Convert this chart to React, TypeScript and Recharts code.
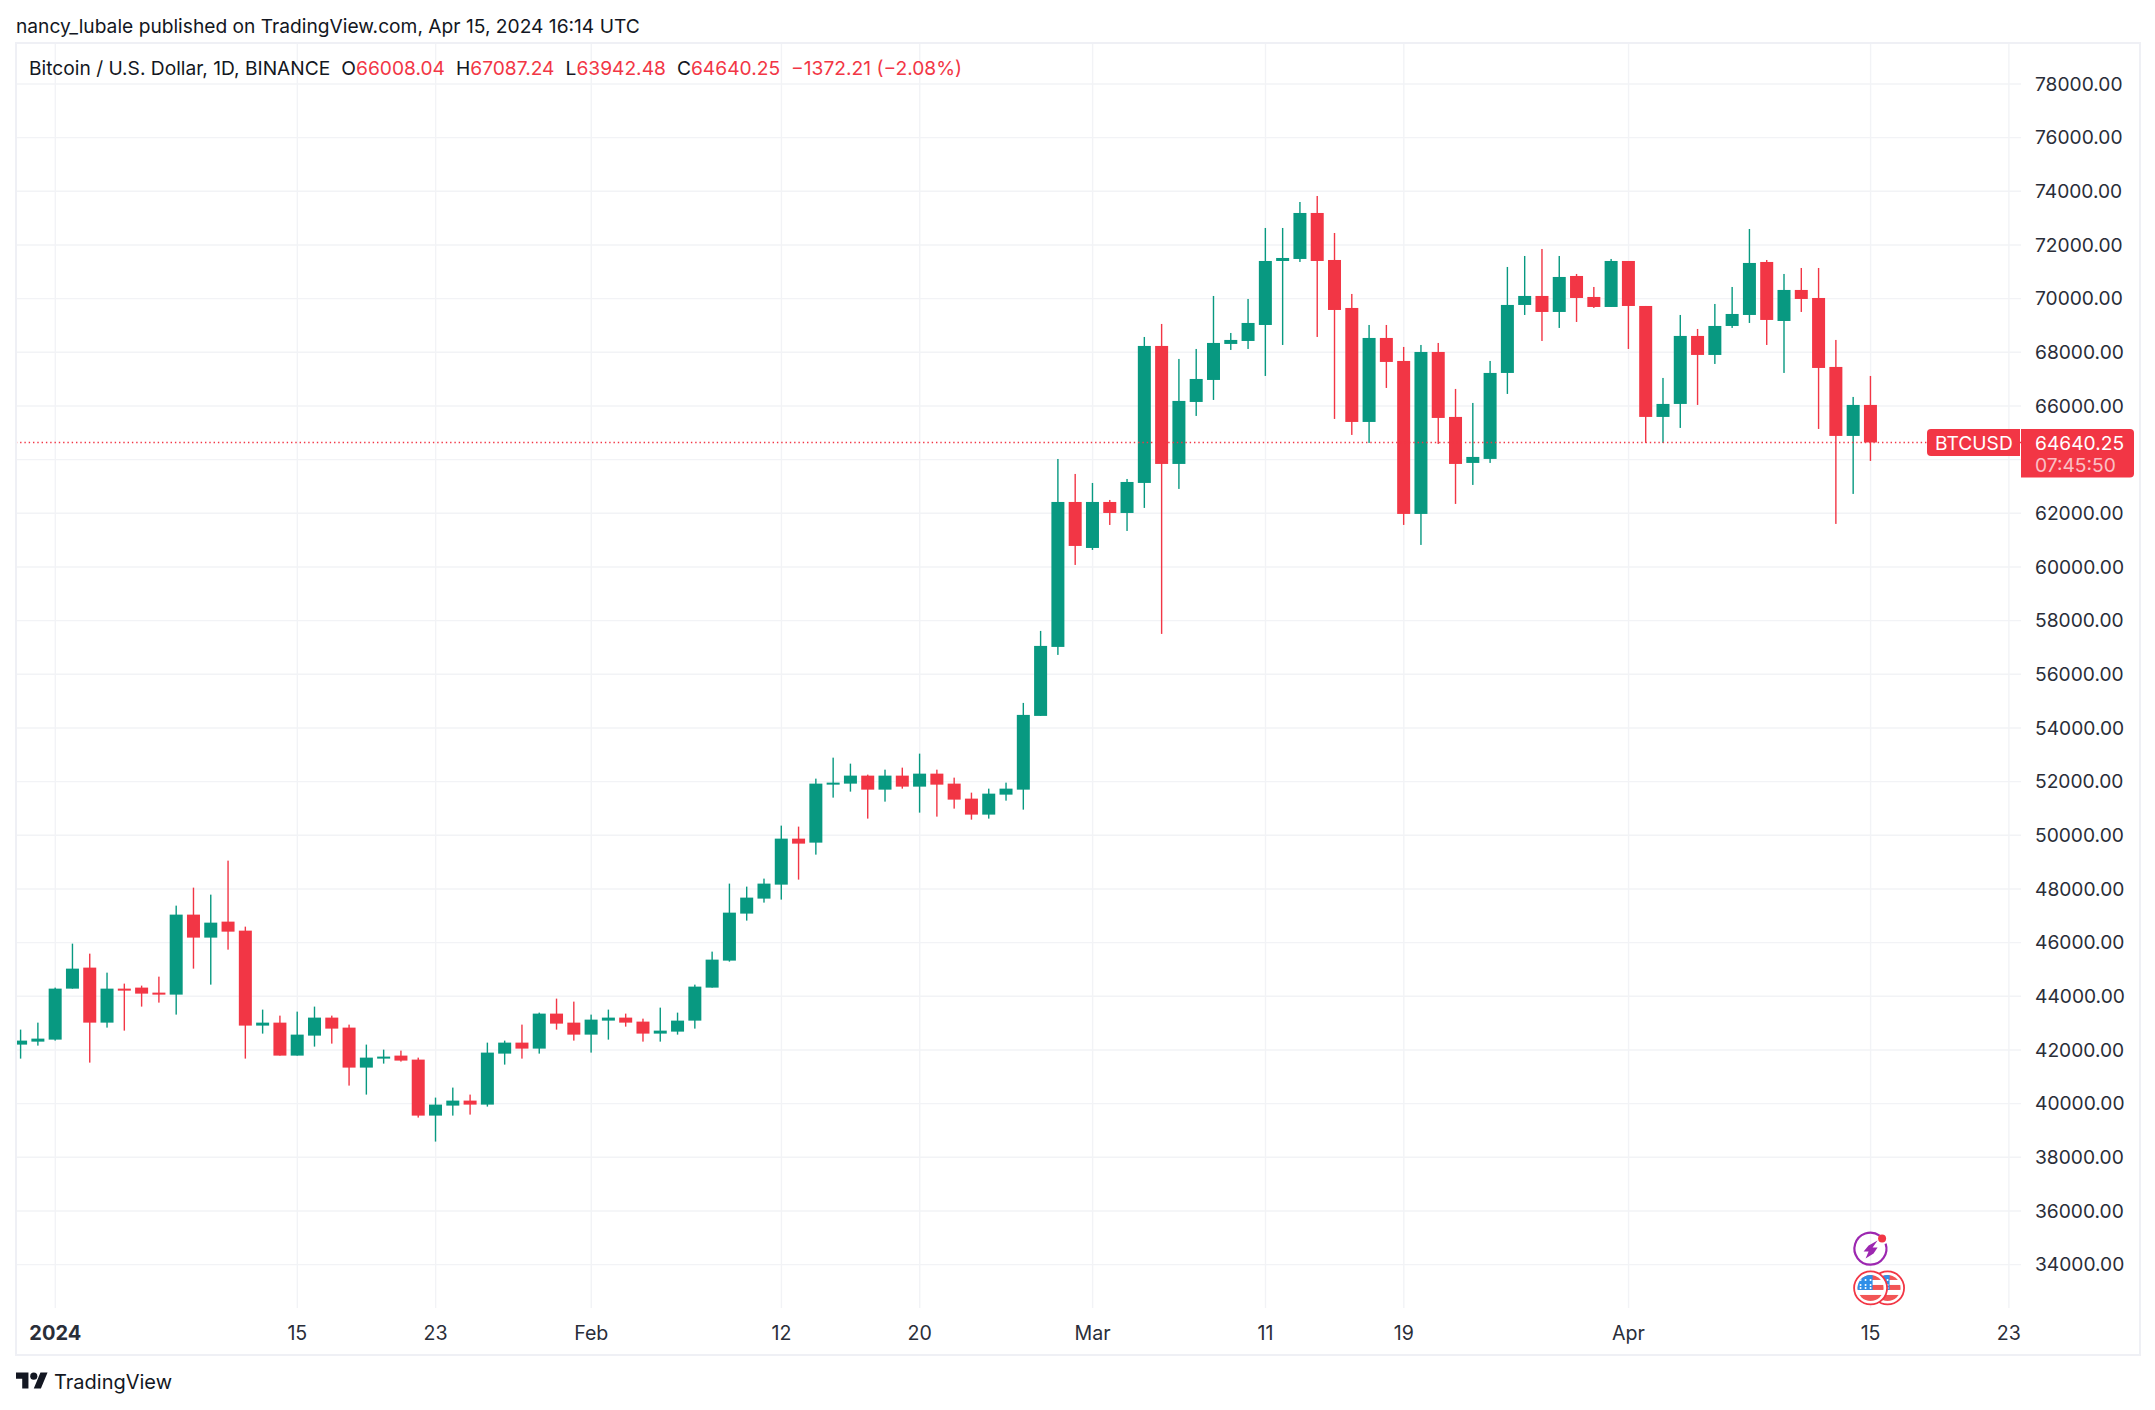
import React from 'react'
import { ComposedChart, Bar, XAxis, YAxis, CartesianGrid, ReferenceLine, ReferenceDot } from 'recharts'

// daily candles, first one is Dec 30 2023 (day -2), last is Apr 15 2024
const opens = [
  42199, 42310,
  42385, 44285, 45068, 43018, 44285, 44323, 44136, 44062, 47043, 46186, 46782, 46446, 42907, 43018, 41789, 42534,
  43205, 42832, 41342, 41677, 41789, 41640, 39553, 39926, 40112, 39963, 41863, 42273, 42050, 43354, 43018,
  42571, 43093, 43205, 43056, 42609, 42683, 43093, 44323, 45329, 47081, 47640, 48161, 49875, 49726, 51887, 51925,
  52223, 51701, 52223, 51813, 52297, 51925, 51366, 50770, 51515, 51701, 54449, 57020, 62422,
  60708, 62422, 62012, 63131, 68236, 63839, 66149, 66969, 68311, 68422, 69018, 71403, 71478, 73192, 71440, 69652,
  65404, 68534, 67677, 61976, 68012, 65591, 63877, 64026, 67230, 69764, 70099, 69503, 70844, 70062, 69689,
  71403, 69726, 65591, 66075, 68609, 67901, 68981, 69391, 71366, 69167, 70323, 70024, 67454, 64883, 66038,
]
const highs = [
  42758, 43018,
  44323, 45962, 45589, 44881, 44472, 44397, 44732, 47378, 48049, 47788, 49055, 46595, 43503, 43279, 43428, 43615,
  43279, 42944, 42199, 42012, 41975, 41714, 40224, 40597, 40336, 42273, 42348, 42944, 43391, 43913, 43801,
  43317, 43503, 43354, 43167, 43577, 43391, 44434, 45664, 48199, 48087, 48385, 50360, 50323, 52111, 52893, 52670,
  52260, 52446, 52521, 53043, 52446, 52148, 51589, 51738, 51962, 54933, 57616, 64024, 63466,
  63130, 62497, 63279, 68571, 69056, 67752, 68124, 70099, 68720, 69987, 72633, 72633, 73601, 73825, 72446, 70174,
  69018, 69018, 68199, 68273, 68348, 66634, 66112, 67677, 71180, 71589, 71850, 71589, 70919, 70434, 71478,
  71403, 69726, 67044, 69391, 68869, 69801, 70434, 72595, 71440, 70919, 71142, 71142, 68460, 66336, 67118,
]
const lows = [
  41677, 42161,
  42348, 44285, 41528, 42832, 42720, 43615, 43764, 43317, 45030, 44434, 45738, 41677, 42609, 41789, 41789, 42124,
  42236, 40671, 40336, 41491, 41565, 39479, 38585, 39553, 39590, 39889, 41454, 41677, 41863, 42758, 42348,
  41901, 42385, 42869, 42310, 42310, 42571, 42795, 44323, 45291, 46820, 47491, 47603, 48348, 49279, 51403, 51627,
  50621, 51254, 51738, 50844, 50695, 50993, 50583, 50621, 51291, 50956, 54449, 56722, 60075,
  60634, 61565, 61342, 62200, 57505, 62908, 65628, 66224, 68087, 68124, 67118, 68273, 71366, 68571, 65516, 64920,
  64622, 66671, 61566, 60821, 64585, 62349, 63057, 63877, 66448, 69391, 68422, 68907, 69130, 69652, 69689,
  68124, 64622, 64622, 65181, 66038, 67565, 68907, 69093, 68273, 67230, 69503, 65143, 61604, 62722, 63951,
]
const closes = [
  42348, 42422,
  44285, 45030, 43018, 44285, 44248, 44099, 44062, 47043, 46186, 46744, 46409, 42907, 43018, 41789, 42571, 43205,
  42795, 41342, 41714, 41752, 41603, 39553, 39963, 40112, 39963, 41901, 42273, 42050, 43354, 42981, 42571,
  43130, 43205, 43018, 42609, 42720, 43093, 44360, 45366, 47117, 47677, 48199, 49875, 49689, 51925, 51962, 52223,
  51701, 52223, 51813, 52297, 51887, 51329, 50770, 51552, 51738, 54486, 57057, 62422, 60783,
  62422, 62012, 63167, 68236, 63839, 66187, 67006, 68348, 68460, 69093, 71403, 71515, 73192, 71403, 69577, 65404,
  68534, 67640, 61976, 68012, 65553, 63839, 64100, 67230, 69764, 70099, 69503, 70807, 70024, 69689, 71403,
  69726, 65591, 66075, 68609, 67901, 68981, 69428, 71329, 69205, 70323, 69987, 67416, 64883, 66038, 64640,
]

const priceTicks = [
  34000, 36000, 38000, 40000, 42000, 44000, 46000, 48000, 50000, 52000, 54000, 56000,
  58000, 60000, 62000, 64000, 66000, 68000, 70000, 72000, 74000, 76000, 78000,
]
const dayTicks = [0, 14, 22, 31, 42, 50, 60, 70, 78, 91, 105, 113]
const dayLabels = ['2024', '15', '23', 'Feb', '12', '20', 'Mar', '11', '19', 'Apr', '15', '23']

const lastPrice = 64640.25
const countdown = '07:45:50'
const legendValues = [
  { key: 'O', value: '66008.04' },
  { key: 'H', value: '67087.24' },
  { key: 'L', value: '63942.48' },
  { key: 'C', value: '64640.25' },
]

const UP = '#089981'
const DOWN = '#F23645'
const GRID = '#f2f3f6'
const TEXT = '#2a2e39'
const FONT = 'Inter, "Noto Sans", sans-serif'
const FONT_SIZE = 19.2

const rows = opens.map((open, i) => ({
  day: i - 2,
  open,
  close: closes[i],
  high: highs[i],
  low: lows[i],
  range: [lows[i], highs[i]],
}))

const Candle = ({ x, y, width, height, payload }: any) => {
  const { open, close, high, low } = payload
  const color = close >= open ? UP : DOWN
  const toY = (v: number) => y + ((high - v) / (high - low)) * height
  const top = toY(Math.max(open, close))
  const bottom = toY(Math.min(open, close))
  const mid = x + width / 2
  return (
    <g>
      <rect x={mid - 0.7} y={y} width={1.4} height={height} fill={color} />
      <rect x={x} y={top} width={width} height={Math.max(bottom - top, 2)} fill={color} />
    </g>
  )
}

const DayTick = ({ x, y, payload }: any) => {
  const i = dayTicks.indexOf(payload.value)
  return (
    <text
      x={x}
      y={y + 23}
      textAnchor="middle"
      dominantBaseline="central"
      fontSize={i === 0 ? 20 : 19.6}
      fontFamily={FONT}
      fontWeight={i === 0 ? 700 : 400}
      fill={TEXT}
    >
      {dayLabels[i]}
    </text>
  )
}

// the red tag on the price scale, sits on the last price line
const PriceTag = ({ viewBox }: any) => {
  const right = viewBox.x + viewBox.width
  const y = viewBox.y
  return (
    <g fontFamily={FONT} fontSize={FONT_SIZE}>
      <path
        d={`M${right - 1} ${y - 13.5}H${right - 90}a4 4 0 0 0 -4 4V${y + 9.5}a4 4 0 0 0 4 4H${right - 1}Z`}
        fill={DOWN}
      />
      <text x={right - 86} y={y + 1} dominantBaseline="central" fill="#fff">BTCUSD</text>
      <path
        d={`M${right} ${y - 13.5}H${right + 109}a4 4 0 0 1 4 4V${y + 31}a4 4 0 0 1 -4 4H${right}Z`}
        fill={DOWN}
      />
      <text x={right + 14} y={y + 1} dominantBaseline="central" fill="#fff">{lastPrice.toFixed(2)}</text>
      <text x={right + 14} y={y + 22.5} dominantBaseline="central" fill="#fff" fillOpacity={0.7}>{countdown}</text>
    </g>
  )
}

const BoltIcon = ({ cx, cy }: any) => (
  <g>
    <path
      d={`M${cx + 9} ${cy - 14}A16 16 0 1 0 ${cx + 15} ${cy - 6}`}
      fill="none"
      stroke="#9c27b0"
      strokeWidth={2.2}
    />
    <path
      d={`M${cx + 7} ${cy - 9}L${cx - 2} ${cy - 4}L${cx - 7} ${cy + 2}H${cx - 2}L${cx - 5} ${cy + 9}L${cx + 3} ${cy + 4}L${cx + 7} ${cy - 2}H${cx + 2}Z`}
      fill="#9c27b0"
    />
    <circle cx={cx + 11.5} cy={cy - 11} r={4} fill={DOWN} />
  </g>
)

const Flag = ({ cx, cy, id }: any) => (
  <g>
    <circle cx={cx} cy={cy} r={16.5} fill="#fff" stroke={DOWN} strokeWidth={1.8} />
    <clipPath id={id}>
      <circle cx={cx} cy={cy} r={13} />
    </clipPath>
    <g clipPath={`url(#${id})`}>
      <rect x={cx - 14} y={cy - 14} width={28} height={28} fill="#fff" />
      <rect x={cx - 14} y={cy - 13} width={28} height={5} fill="#f25555" />
      <rect x={cx - 14} y={cy - 3} width={28} height={5} fill="#f25555" />
      <rect x={cx - 14} y={cy + 7} width={28} height={6} fill="#f25555" />
      <rect x={cx - 14} y={cy - 13} width={16} height={15} fill="#2f8fe8" />
      {[-10, -5, 0].map((dx) =>
        [-8, -3, 0].map((dy) => (
          <circle key={`${dx}${dy}`} cx={cx + dx} cy={cy + dy} r={1} fill="#fff" />
        )),
      )}
    </g>
  </g>
)

const FlagIcons = ({ cx, cy }: any) => (
  <g>
    <Flag cx={cx + 17} cy={cy} id="flag-b" />
    <Flag cx={cx} cy={cy} id="flag-a" />
  </g>
)

const App = () => {
  return (
    <div style={{ position: 'absolute', left: 0, top: 0, width: 2155, height: 1410, background: '#fff', fontFamily: FONT, color: TEXT }}>
      <div style={{ position: 'absolute', left: 16, top: 13, fontSize: FONT_SIZE, lineHeight: '26px', whiteSpace: 'nowrap', color: '#131722' }}>
        nancy_lubale published on TradingView.com, Apr 15, 2024 16:14 UTC
      </div>

      <ComposedChart
        width={2155}
        height={1410}
        data={rows}
        margin={{ top: 44, right: 16, left: 17, bottom: 56 }}
        style={{ position: 'absolute', left: 0, top: 0 }}
      >
        <CartesianGrid stroke={GRID} strokeWidth={1.4} syncWithTicks />
        <XAxis
          dataKey="day"
          type="number"
          domain={[-2.216, 113.7]}
          allowDataOverflow
          ticks={dayTicks}
          interval={0}
          height={46}
          axisLine={false}
          tickLine={false}
          tickSize={0}
          tick={<DayTick />}
        />
        <YAxis
          orientation="right"
          domain={[32383, 79489]}
          ticks={priceTicks}
          interval={0}
          width={118}
          axisLine={false}
          tickLine={false}
          tickSize={0}
          tickMargin={14}
          tick={{ fontSize: FONT_SIZE, fill: TEXT, fontFamily: FONT }}
          tickFormatter={(v: number) => (v === 64000 ? '' : v.toFixed(2))}
        />
        <Bar dataKey="range" barSize={13} shape={<Candle />} isAnimationActive={false} />
        <ReferenceLine
          y={lastPrice}
          stroke={DOWN}
          strokeWidth={1.4}
          strokeDasharray="1.4 2.9"
          label={<PriceTag />}
        />
        <ReferenceDot x={105} y={34560} shape={<BoltIcon />} />
        <ReferenceDot x={105} y={33130} shape={<FlagIcons />} />
      </ComposedChart>

      <div style={{ position: 'absolute', left: 15, top: 42, width: 2122, height: 1310, border: '2px solid #eff0f5', pointerEvents: 'none' }} />

      <div style={{ position: 'absolute', left: 29, top: 55, fontSize: FONT_SIZE, lineHeight: '26px', whiteSpace: 'nowrap', display: 'flex' }}>
        <span style={{ marginRight: 11, color: '#131722' }}>Bitcoin / U.S. Dollar, 1D, BINANCE</span>
        {legendValues.map((item) => (
          <span key={item.key} style={{ marginRight: 11, color: '#131722' }}>
            {item.key}
            <span style={{ color: DOWN }}>{item.value}</span>
          </span>
        ))}
        <span style={{ color: DOWN }}>−1372.21 (−2.08%)</span>
      </div>

      <svg style={{ position: 'absolute', left: 16, top: 1369 }} width={32} height={25} viewBox="0 0 36 28" fill="#131722">
        <path d="M14 22H7V11H0V4h14v18zM28 22h-8l7.5-18h8L28 22z" />
        <circle cx="20" cy="8" r="4" />
      </svg>
      <div style={{ position: 'absolute', left: 54, top: 1367, fontSize: 20, lineHeight: '30px', color: '#131722' }}>TradingView</div>
    </div>
  )
}

export default App
